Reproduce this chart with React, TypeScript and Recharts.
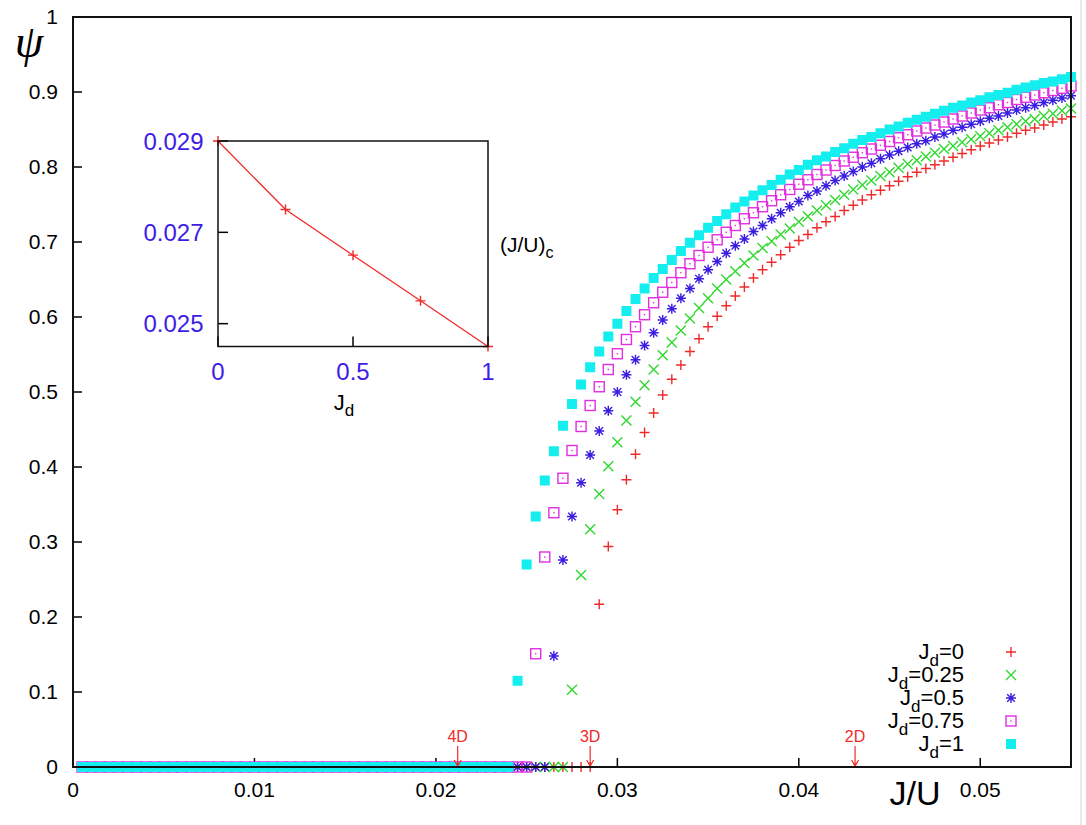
import React from 'react';
import { ScatterChart, Scatter, XAxis, YAxis, ReferenceDot, LineChart, Line } from 'recharts';

// J/U sampling grid used by every series (first point at 0.0005, step 0.0005)
const J_START = 0.0005;
const J_STEP = 0.0005;

const xTicks = [0, 0.01, 0.02, 0.03, 0.04, 0.05];
const yTicks = [0, 0.1, 0.2, 0.3, 0.4, 0.5, 0.6, 0.7, 0.8, 0.9, 1];

// psi values, one per grid point
const psiJd0 = [
  0, 0, 0, 0, 0, 0, 0, 0, 0, 0,
  0, 0, 0, 0, 0, 0, 0, 0, 0, 0,
  0, 0, 0, 0, 0, 0, 0, 0, 0, 0,
  0, 0, 0, 0, 0, 0, 0, 0, 0, 0,
  0, 0, 0, 0, 0, 0, 0, 0, 0, 0,
  0, 0, 0, 0, 0, 0, 0,
  0.217, 0.294, 0.343, 0.383, 0.417, 0.446, 0.472, 0.496, 0.517, 0.536,
  0.554, 0.571, 0.587, 0.601, 0.615, 0.628, 0.640, 0.652, 0.663, 0.673,
  0.683, 0.693, 0.702, 0.710, 0.719, 0.727, 0.734, 0.742, 0.749, 0.756,
  0.763, 0.769, 0.775, 0.781, 0.787, 0.793, 0.798, 0.803, 0.808, 0.813,
  0.818, 0.823, 0.828, 0.832, 0.836, 0.840, 0.845, 0.849, 0.852, 0.856,
  0.860, 0.864, 0.867,
];

const psiJd025 = [
  0, 0, 0, 0, 0, 0, 0, 0, 0, 0,
  0, 0, 0, 0, 0, 0, 0, 0, 0, 0,
  0, 0, 0, 0, 0, 0, 0, 0, 0, 0,
  0, 0, 0, 0, 0, 0, 0, 0, 0, 0,
  0, 0, 0, 0, 0, 0, 0, 0, 0, 0,
  0, 0, 0, 0,
  0.103, 0.256, 0.317, 0.364, 0.401, 0.433, 0.462, 0.487, 0.509, 0.530,
  0.549, 0.566, 0.582, 0.598, 0.612, 0.625, 0.638, 0.650, 0.661, 0.672,
  0.682, 0.692, 0.701, 0.710, 0.718, 0.727, 0.734, 0.742, 0.749, 0.756,
  0.763, 0.770, 0.776, 0.782, 0.788, 0.793, 0.799, 0.804, 0.809, 0.814,
  0.819, 0.824, 0.828, 0.833, 0.837, 0.841, 0.845, 0.849, 0.853, 0.857,
  0.861, 0.864, 0.868, 0.871, 0.875, 0.878,
];

const psiJd05 = [
  0, 0, 0, 0, 0, 0, 0, 0, 0, 0,
  0, 0, 0, 0, 0, 0, 0, 0, 0, 0,
  0, 0, 0, 0, 0, 0, 0, 0, 0, 0,
  0, 0, 0, 0, 0, 0, 0, 0, 0, 0,
  0, 0, 0, 0, 0, 0, 0, 0, 0, 0,
  0, 0,
  0.148, 0.276, 0.334, 0.379, 0.416, 0.448, 0.475, 0.500, 0.523, 0.543,
  0.562, 0.579, 0.596, 0.611, 0.625, 0.638, 0.651, 0.663, 0.674, 0.685,
  0.695, 0.704, 0.714, 0.722, 0.731, 0.739, 0.747, 0.754, 0.762, 0.768,
  0.775, 0.782, 0.788, 0.794, 0.800, 0.805, 0.811, 0.816, 0.821, 0.826,
  0.831, 0.835, 0.840, 0.844, 0.849, 0.853, 0.857, 0.861, 0.865, 0.868,
  0.872, 0.876, 0.879, 0.882, 0.886, 0.889, 0.892, 0.895,
];

const psiJd075 = [
  0, 0, 0, 0, 0, 0, 0, 0, 0, 0,
  0, 0, 0, 0, 0, 0, 0, 0, 0, 0,
  0, 0, 0, 0, 0, 0, 0, 0, 0, 0,
  0, 0, 0, 0, 0, 0, 0, 0, 0, 0,
  0, 0, 0, 0, 0, 0, 0, 0, 0, 0,
  0.151, 0.280, 0.339, 0.385, 0.422, 0.454, 0.482, 0.507, 0.530, 0.551,
  0.570, 0.587, 0.603, 0.619, 0.633, 0.646, 0.659, 0.671, 0.682, 0.693,
  0.703, 0.713, 0.722, 0.731, 0.739, 0.747, 0.755, 0.763, 0.770, 0.777,
  0.783, 0.790, 0.796, 0.802, 0.808, 0.813, 0.819, 0.824, 0.829, 0.834,
  0.839, 0.843, 0.848, 0.852, 0.856, 0.860, 0.864, 0.868, 0.872, 0.876,
  0.879, 0.883, 0.886, 0.890, 0.893, 0.896, 0.899, 0.902, 0.905, 0.908,
];

const psiJd1 = [
  0, 0, 0, 0, 0, 0, 0, 0, 0, 0,
  0, 0, 0, 0, 0, 0, 0, 0, 0, 0,
  0, 0, 0, 0, 0, 0, 0, 0, 0, 0,
  0, 0, 0, 0, 0, 0, 0, 0, 0, 0,
  0, 0, 0, 0, 0, 0, 0, 0,
  0.115, 0.270, 0.334, 0.382, 0.421, 0.455, 0.484, 0.510, 0.533, 0.554,
  0.574, 0.591, 0.608, 0.624, 0.638, 0.652, 0.664, 0.676, 0.688, 0.699,
  0.709, 0.719, 0.728, 0.737, 0.746, 0.754, 0.762, 0.769, 0.776, 0.783,
  0.790, 0.796, 0.803, 0.809, 0.814, 0.820, 0.825, 0.831, 0.836, 0.840,
  0.845, 0.850, 0.854, 0.859, 0.863, 0.867, 0.871, 0.875, 0.879, 0.882,
  0.886, 0.889, 0.893, 0.896, 0.899, 0.903, 0.906, 0.909, 0.912, 0.914,
  0.917, 0.920,
];

const jdLabels = ['0', '0.25', '0.5', '0.75', '1'];
const seriesPsi = [psiJd0, psiJd025, psiJd05, psiJd075, psiJd1];
const seriesColors = ['#f02a2a', '#30d830', '#3a1ee0', '#e02ee0', '#14eeee'];
const seriesGlyphs = ['plus', 'cross', 'star', 'box', 'boxFilled'];

// mean-field critical points for hypercubic lattices
const phaseLabels = ['4D', '3D', '2D'];
const phaseJ = [0.0212, 0.0285, 0.0431];

// inset: critical (J/U)c vs J_d
const insetJd = [0, 0.25, 0.5, 0.75, 1];
const insetJc = [0.029, 0.0275, 0.0265, 0.0255, 0.0245];

const RED = '#f02a2a';
const INSET_BLUE = '#3d1de6';

const Glyph = ({ kind, cx, cy, color }: { kind: string; cx: number; cy: number; color: string }) => {
  if (kind === 'plus') {
    return <path d={`M${cx - 5},${cy}H${cx + 5}M${cx},${cy - 5}V${cy + 5}`} stroke={color} strokeWidth={1.4} fill="none" />;
  }
  if (kind === 'cross') {
    const c = 5;
    return <path d={`M${cx - c},${cy - c}L${cx + c},${cy + c}M${cx - c},${cy + c}L${cx + c},${cy - c}`} stroke={color} strokeWidth={1.4} fill="none" />;
  }
  if (kind === 'star') {
    const c = 3.8;
    return (
      <path
        d={`M${cx - 5},${cy}H${cx + 5}M${cx},${cy - 5}V${cy + 5}M${cx - c},${cy - c}L${cx + c},${cy + c}M${cx - c},${cy + c}L${cx + c},${cy - c}`}
        stroke={color}
        strokeWidth={1.4}
        fill="none"
      />
    );
  }
  if (kind === 'box') {
    return (
      <g>
        <rect x={cx - 5} y={cy - 5} width={10} height={10} fill="none" stroke={color} strokeWidth={1.4} />
        <rect x={cx - 0.7} y={cy - 0.7} width={1.4} height={1.4} fill={color} />
      </g>
    );
  }
  return <rect x={cx - 5} y={cy - 5} width={10} height={10} fill={color} />;
};

const PhaseMark = ({ cx, cy, label }: { cx: number; cy: number; label: string }) => (
  <g>
    <text x={cx} y={cy - 25} textAnchor="middle" fontSize={16} fill={RED}>
      {label}
    </text>
    <path
      d={`M${cx},${cy - 21}V${cy - 1}M${cx - 3.5},${cy - 7}L${cx},${cy - 1}L${cx + 3.5},${cy - 7}`}
      stroke={RED}
      strokeWidth={1.2}
      fill="none"
    />
  </g>
);

const fmt = (v: number) => String(v);

const App = () => {
  const series = seriesPsi.map((arr) => arr.map((psi, i) => ({ J: J_START + i * J_STEP, psi })));
  const insetData = insetJd.map((jd, i) => ({ Jd: jd, Jc: insetJc[i] }));
  const tickLine = { stroke: '#000', strokeWidth: 1.5 };

  return (
    <div
      style={{
        position: 'absolute',
        left: 0,
        top: 0,
        width: 1086,
        height: 825,
        background: '#fff',
        fontFamily: '"Liberation Sans", Arial, sans-serif',
      }}
    >
      <ScatterChart width={1086} height={825} margin={{ top: 17, right: 15, bottom: 18, left: 10 }}>
        <XAxis
          type="number"
          dataKey="J"
          domain={[0, 0.055]}
          ticks={xTicks}
          interval={0}
          tickFormatter={fmt}
          tickSize={-9}
          tickMargin={24}
          height={40}
          axisLine={false}
          tickLine={tickLine}
          tick={{ fill: '#000', fontSize: 21 }}
        />
        <XAxis
          xAxisId="top"
          orientation="top"
          type="number"
          domain={[0, 0.055]}
          ticks={xTicks}
          interval={0}
          tick={false}
          tickSize={-9}
          height={0}
          axisLine={false}
          tickLine={tickLine}
        />
        <YAxis
          type="number"
          dataKey="psi"
          domain={[0, 1]}
          ticks={yTicks}
          interval={0}
          tickFormatter={fmt}
          tickSize={-9}
          tickMargin={24}
          width={63}
          axisLine={false}
          tickLine={tickLine}
          tick={{ fill: '#000', fontSize: 21 }}
        />
        {series.map((data, k) => (
          <Scatter
            key={jdLabels[k]}
            data={data}
            isAnimationActive={false}
            shape={(p: any) => <Glyph kind={seriesGlyphs[k]} cx={p.cx} cy={p.cy} color={seriesColors[k]} />}
          />
        ))}
        {phaseJ.map((j, i) => (
          <ReferenceDot
            key={phaseLabels[i]}
            x={j}
            y={0}
            shape={(p: any) => <PhaseMark cx={p.cx} cy={p.cy} label={phaseLabels[i]} />}
          />
        ))}
      </ScatterChart>

      <div style={{ position: 'absolute', left: 100, top: 120 }}>
        <LineChart width={420} height={300} data={insetData} margin={{ top: 21, right: 32, bottom: 23.5, left: 18 }}>
          <XAxis
            type="number"
            dataKey="Jd"
            domain={[0, 1]}
            ticks={[0, 0.5, 1]}
            interval={0}
            tickFormatter={fmt}
            tickSize={-10}
            tickMargin={26}
            height={50}
            axisLine={false}
            tickLine={tickLine}
            tick={{ fill: INSET_BLUE, fontSize: 24 }}
          />
          <YAxis
            type="number"
            domain={[0.0245, 0.029]}
            ticks={[0.025, 0.027, 0.029]}
            interval={0}
            tickFormatter={fmt}
            tickSize={-10}
            tickMargin={24.5}
            width={100}
            axisLine={false}
            tickLine={tickLine}
            tick={{ fill: INSET_BLUE, fontSize: 24 }}
          />
          <Line
            dataKey="Jc"
            stroke={RED}
            strokeWidth={1.3}
            isAnimationActive={false}
            dot={(p: any) => <Glyph key={`d${p.index}`} kind="plus" cx={p.cx} cy={p.cy} color={RED} />}
          />
        </LineChart>
      </div>

      <svg width={1086} height={825} style={{ position: 'absolute', left: 0, top: 0, pointerEvents: 'none' }}>
        <rect x={73} y={17} width={998} height={750} fill="none" stroke="#111" strokeWidth={2} />
        <rect x={218} y={141} width={270} height={205.5} fill="none" stroke="#111" strokeWidth={1.5} />
        <line x1={1081} y1={0} x2={1081} y2={825} stroke="#d4d4d4" strokeWidth={1} />

        <text x={29} y={57} textAnchor="middle" fontSize={46} fontStyle="italic" fontFamily='"Liberation Serif", serif'>
          ψ
        </text>
        <text x={915} y={805} textAnchor="middle" fontSize={34}>
          J/U
        </text>
        <text x={500} y={252} fontSize={21}>
          (J/U)
          <tspan fontSize={16} dy={6}>
            c
          </tspan>
        </text>
        <text x={344} y={410} fontSize={22} textAnchor="middle">
          J
          <tspan fontSize={17} dy={6}>
            d
          </tspan>
        </text>

        {jdLabels.map((lab, i) => {
          const cy = 652 + 23 * i;
          return (
            <g key={lab}>
              <text x={964} y={cy + 7} textAnchor="end" fontSize={22}>
                J
                <tspan fontSize={17} dy={7}>
                  d
                </tspan>
                <tspan dy={-7}>={lab}</tspan>
              </text>
              <Glyph kind={seriesGlyphs[i]} cx={1011} cy={cy} color={seriesColors[i]} />
            </g>
          );
        })}
      </svg>
    </div>
  );
};

export default App;
